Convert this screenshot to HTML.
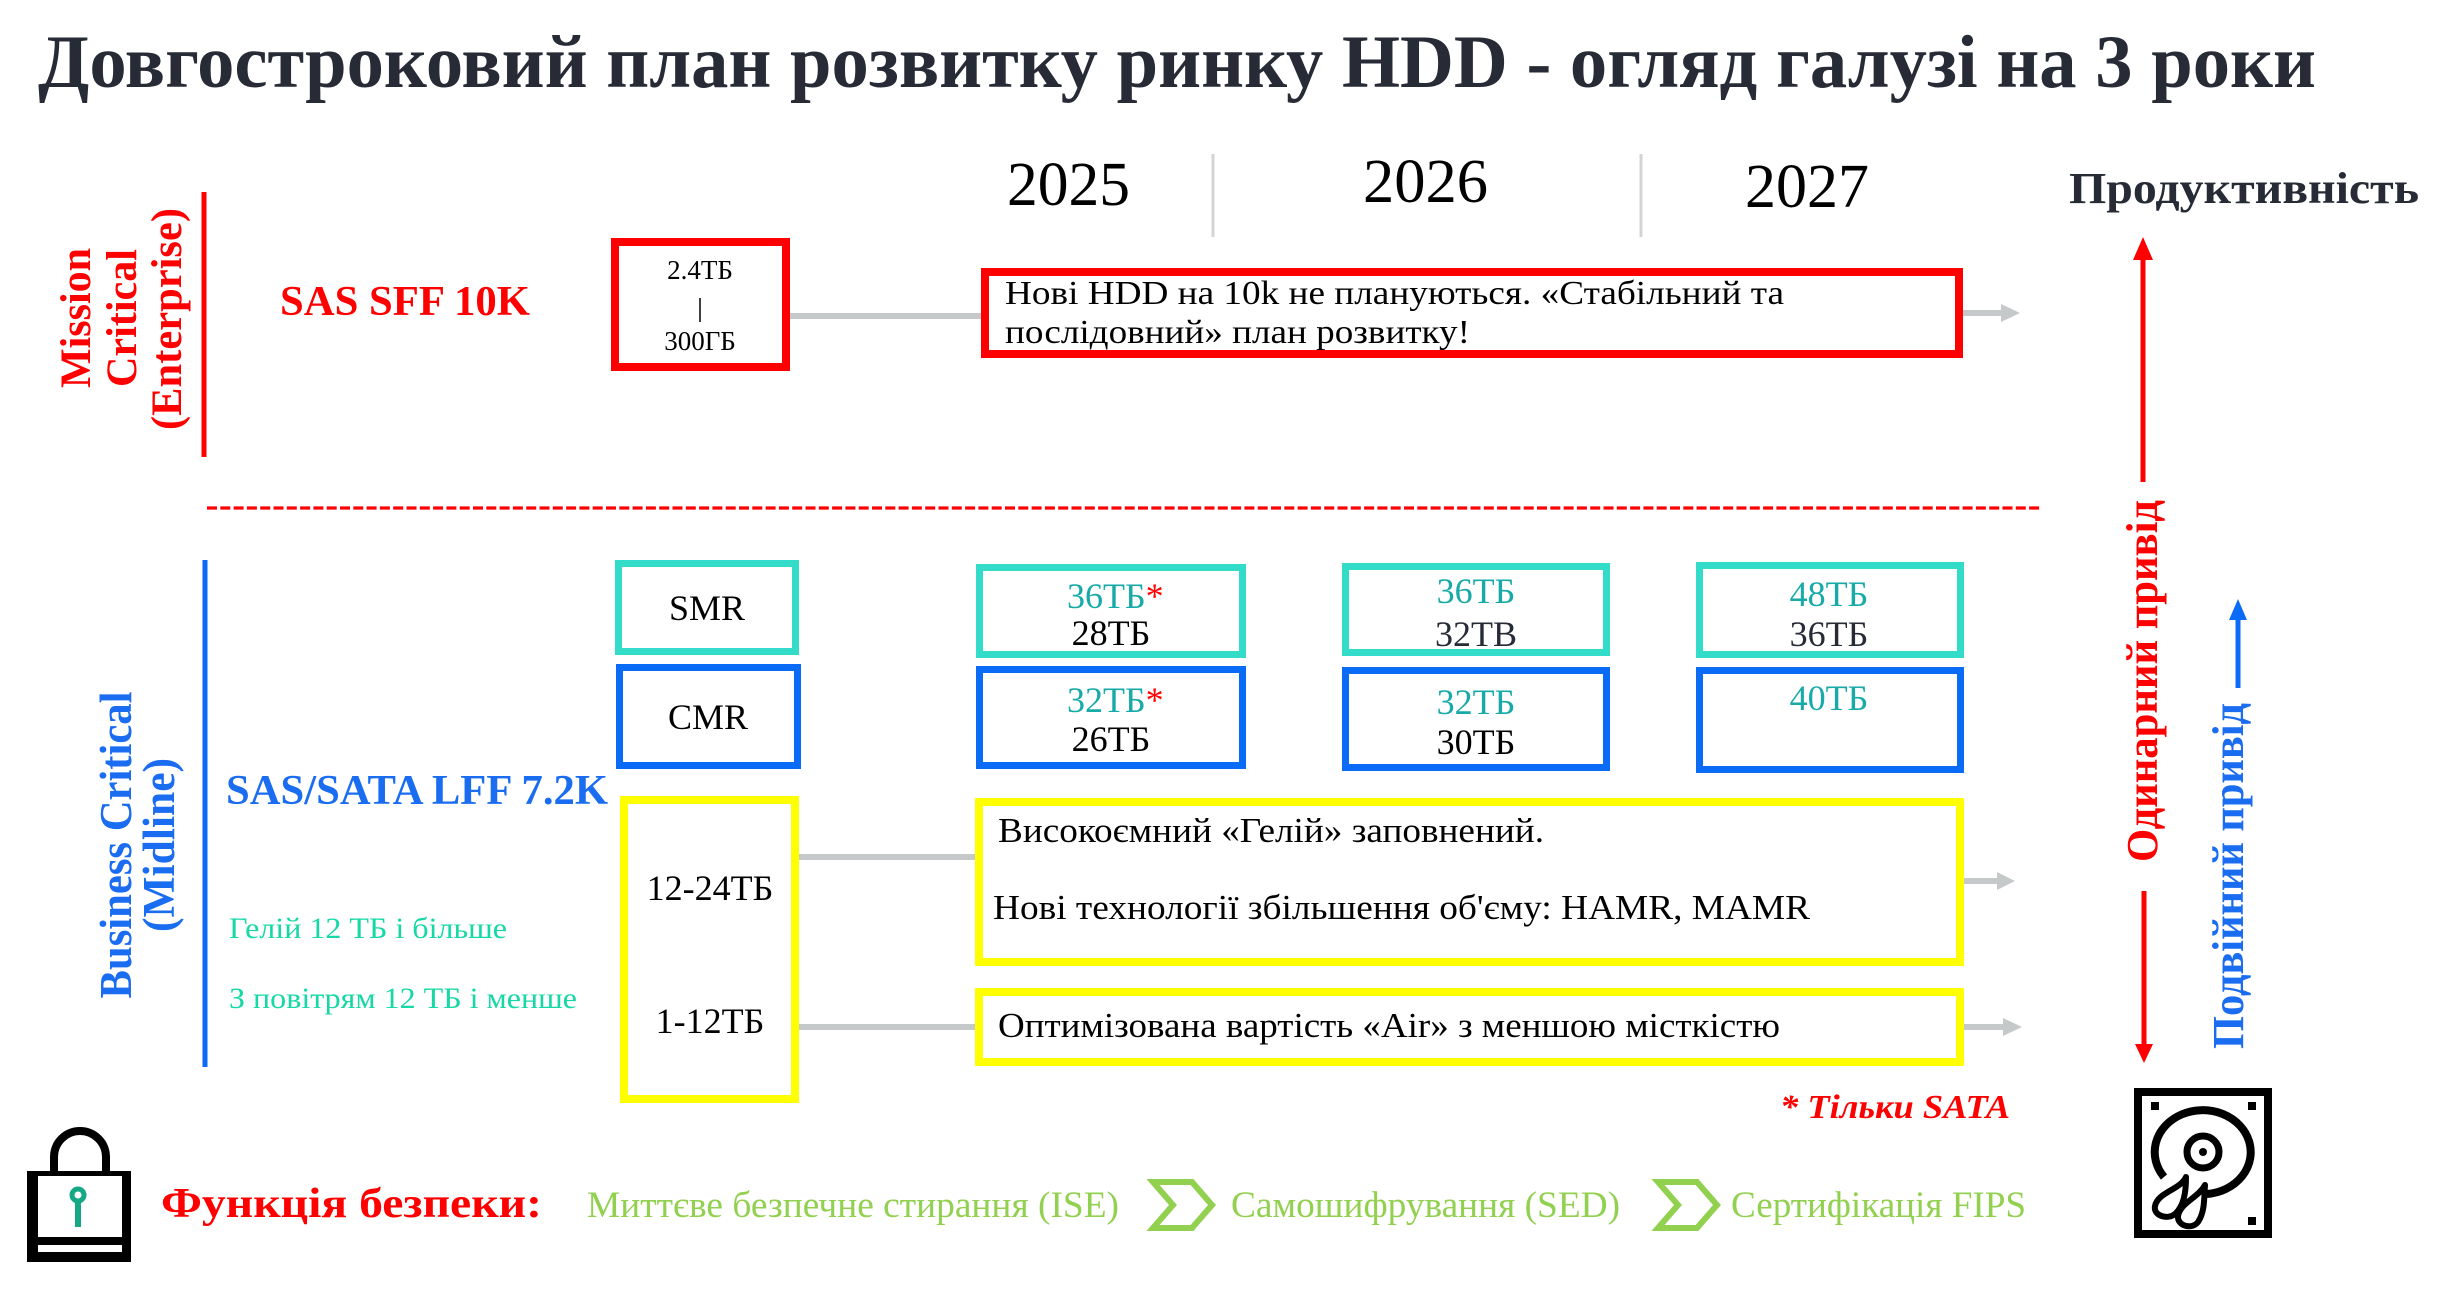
<!DOCTYPE html>
<html><head><meta charset="utf-8"><style>
html,body{margin:0;padding:0;background:#fff;}
svg{display:block;}
text{font-family:"Liberation Serif","Noto Serif CJK SC",serif;}
.b{font-weight:bold;}
</style></head><body>
<svg width="2462" height="1298" viewBox="0 0 2462 1298" xmlns="http://www.w3.org/2000/svg">
<rect width="2462" height="1298" fill="#fff"/>

<!-- Title -->
<text x="38" y="87" class="b" font-size="75" fill="#262b36" textLength="2278" lengthAdjust="spacingAndGlyphs">Довгостроковий план розвитку ринку HDD - огляд галузі на 3 роки</text>

<!-- Years -->
<text x="1007" y="205" font-size="62" fill="#000" textLength="123" lengthAdjust="spacingAndGlyphs">2025</text>
<text x="1363" y="202" font-size="62" fill="#000" textLength="125" lengthAdjust="spacingAndGlyphs">2026</text>
<text x="1745" y="207" font-size="62" fill="#000" textLength="124" lengthAdjust="spacingAndGlyphs">2027</text>
<line x1="1213" y1="154" x2="1213" y2="237" stroke="#d4d4d4" stroke-width="3"/>
<line x1="1641" y1="154" x2="1641" y2="237" stroke="#d4d4d4" stroke-width="3"/>
<text x="2069" y="203" class="b" font-size="44" fill="#262b36" textLength="350" lengthAdjust="spacingAndGlyphs">Продуктивність</text>

<!-- Mission Critical -->
<text transform="translate(90,318) rotate(-90)" text-anchor="middle" class="b" font-size="43" fill="#ff0000" textLength="140" lengthAdjust="spacingAndGlyphs">Mission</text>
<text transform="translate(136,318) rotate(-90)" text-anchor="middle" class="b" font-size="43" fill="#ff0000" textLength="138" lengthAdjust="spacingAndGlyphs">Critical</text>
<text transform="translate(181,319) rotate(-90)" text-anchor="middle" class="b" font-size="43" fill="#ff0000" textLength="222" lengthAdjust="spacingAndGlyphs">(Enterprise)</text>
<line x1="204" y1="192" x2="204" y2="457" stroke="#ff0000" stroke-width="5"/>
<text x="280" y="315" class="b" font-size="42" fill="#ff0000" textLength="250" lengthAdjust="spacingAndGlyphs">SAS SFF 10K</text>

<!-- 2.4TB box -->
<rect x="615" y="242" width="171" height="125" fill="none" stroke="#ff0000" stroke-width="8"/>
<text x="700" y="279" text-anchor="middle" font-size="27" fill="#000">2.4ТБ</text>
<line x1="700" y1="298" x2="700" y2="322" stroke="#000" stroke-width="1.5"/>
<text x="700" y="350" text-anchor="middle" font-size="27" fill="#000">300ГБ</text>
<line x1="790" y1="316" x2="981" y2="316" stroke="#c6c9c9" stroke-width="6"/>

<!-- Red text box -->
<rect x="985" y="272" width="974" height="82" fill="none" stroke="#ff0000" stroke-width="8"/>
<text x="1005" y="304" font-size="34" fill="#000" textLength="779" lengthAdjust="spacingAndGlyphs">Нові HDD на 10k не плануються. «Стабільний та</text>
<text x="1005" y="343" font-size="34" fill="#000" textLength="465" lengthAdjust="spacingAndGlyphs">послідовний» план розвитку!</text>
<line x1="1963" y1="313" x2="2003" y2="313" stroke="#c6c9c9" stroke-width="6"/>
<polygon points="2001,304 2020,313 2001,322" fill="#c6c9c9"/>

<!-- Dashed separator -->
<line x1="207" y1="508" x2="2040" y2="508" stroke="#ff0000" stroke-width="3.3" stroke-dasharray="10 3.3"/>

<!-- Business Critical -->
<text transform="translate(131,845) rotate(-90)" text-anchor="middle" class="b" font-size="45" fill="#1a6cf0" textLength="307" lengthAdjust="spacingAndGlyphs">Business Critical</text>
<text transform="translate(174,845) rotate(-90)" text-anchor="middle" class="b" font-size="45" fill="#1a6cf0" textLength="174" lengthAdjust="spacingAndGlyphs">(Midline)</text>
<line x1="205" y1="560" x2="205" y2="1067" stroke="#0a6bf6" stroke-width="5"/>
<text x="226" y="804" class="b" font-size="42" fill="#1a6cf0" textLength="382" lengthAdjust="spacingAndGlyphs">SAS/SATA LFF 7.2K</text>
<text x="229" y="938" font-size="30" fill="#16d8a6" textLength="278" lengthAdjust="spacingAndGlyphs">Гелій 12 ТБ і більше</text>
<text x="229" y="1008" font-size="30" fill="#16d8a6" textLength="348" lengthAdjust="spacingAndGlyphs">З повітрям 12 ТБ і менше</text>

<!-- SMR / CMR labels -->
<rect x="618.5" y="563.5" width="177" height="88" fill="none" stroke="#33dcc8" stroke-width="7"/>
<text x="707" y="620" text-anchor="middle" font-size="36" fill="#000">SMR</text>
<rect x="619.5" y="667.5" width="178" height="98" fill="none" stroke="#0a6bf6" stroke-width="7"/>
<text x="708" y="729" text-anchor="middle" font-size="36" fill="#000">CMR</text>

<!-- Yellow left box -->
<rect x="624" y="800" width="171" height="299" fill="none" stroke="#ffff00" stroke-width="8"/>
<text x="710" y="900" text-anchor="middle" font-size="36" fill="#000">12-24ТБ</text>
<text x="710" y="1033" text-anchor="middle" font-size="36" fill="#000">1-12ТБ</text>
<line x1="799" y1="857" x2="975" y2="857" stroke="#c6c9c9" stroke-width="6"/>
<line x1="799" y1="1027" x2="975" y2="1027" stroke="#c6c9c9" stroke-width="6"/>

<!-- 2025 -->
<rect x="979.5" y="567.5" width="263" height="87" fill="none" stroke="#33dcc8" stroke-width="7"/>
<text x="1067" y="608" font-size="36" fill="#17aaa8">36ТБ<tspan fill="#ff0000">*</tspan></text>
<text x="1111" y="645" text-anchor="middle" font-size="36" fill="#000">28ТБ</text>
<rect x="979.5" y="669.5" width="263" height="96" fill="none" stroke="#0a6bf6" stroke-width="7"/>
<text x="1067" y="712" font-size="36" fill="#17aaa8">32ТБ<tspan fill="#ff0000">*</tspan></text>
<text x="1111" y="751" text-anchor="middle" font-size="36" fill="#000">26ТБ</text>

<!-- 2026 -->
<rect x="1345.5" y="566.5" width="261" height="86" fill="none" stroke="#33dcc8" stroke-width="7"/>
<text x="1476" y="603" text-anchor="middle" font-size="36" fill="#17aaa8">36ТБ</text>
<text x="1476" y="646" text-anchor="middle" font-size="36" fill="#262b36">32ТВ</text>
<rect x="1345.5" y="670.5" width="261" height="97" fill="none" stroke="#0a6bf6" stroke-width="7"/>
<text x="1476" y="714" text-anchor="middle" font-size="36" fill="#17aaa8">32ТБ</text>
<text x="1476" y="754" text-anchor="middle" font-size="36" fill="#000">30ТБ</text>

<!-- 2027 -->
<rect x="1699.5" y="565.5" width="261" height="89" fill="none" stroke="#33dcc8" stroke-width="7"/>
<text x="1829" y="606" text-anchor="middle" font-size="36" fill="#17aaa8">48ТБ</text>
<text x="1829" y="646" text-anchor="middle" font-size="36" fill="#262b36">36ТБ</text>
<rect x="1699.5" y="670.5" width="261" height="99" fill="none" stroke="#0a6bf6" stroke-width="7"/>
<text x="1829" y="710" text-anchor="middle" font-size="36" fill="#17aaa8">40ТБ</text>

<!-- Big yellow box -->
<rect x="979" y="802" width="981" height="160" fill="none" stroke="#ffff00" stroke-width="8"/>
<text x="998" y="842" font-size="35" fill="#000" textLength="546" lengthAdjust="spacingAndGlyphs">Високоємний «Гелій» заповнений.</text>
<text x="993" y="919" font-size="35" fill="#000" textLength="817" lengthAdjust="spacingAndGlyphs">Нові технології збільшення об'єму: HAMR, MAMR</text>
<line x1="1964" y1="881" x2="1999" y2="881" stroke="#c6c9c9" stroke-width="6"/>
<polygon points="1997,872 2015,881 1997,890" fill="#c6c9c9"/>

<!-- Small yellow box -->
<rect x="979" y="992" width="981" height="70" fill="none" stroke="#ffff00" stroke-width="8"/>
<text x="998" y="1037" font-size="35" fill="#000" textLength="782" lengthAdjust="spacingAndGlyphs">Оптимізована вартість «Air» з меншою місткістю</text>
<line x1="1964" y1="1027" x2="2005" y2="1027" stroke="#c6c9c9" stroke-width="6"/>
<polygon points="2003,1018 2022,1027 2003,1036" fill="#c6c9c9"/>

<text x="1780" y="1118" class="b" font-style="italic" font-size="34" fill="#ff0000" textLength="230" lengthAdjust="spacingAndGlyphs">* Тільки SATA</text>

<!-- Right arrows -->
<line x1="2143" y1="255" x2="2143" y2="482" stroke="#ff0000" stroke-width="5"/>
<polygon points="2133,260 2143,237 2153,260" fill="#ff0000"/>
<text transform="translate(2157,681) rotate(-90)" text-anchor="middle" class="b" font-size="44" fill="#ff0000" textLength="362" lengthAdjust="spacingAndGlyphs">Одинарний привід</text>
<line x1="2144" y1="891" x2="2144" y2="1048" stroke="#ff0000" stroke-width="5"/>
<polygon points="2135,1044 2144,1063 2153,1044" fill="#ff0000"/>

<line x1="2238" y1="615" x2="2238" y2="688" stroke="#0a6bf6" stroke-width="5"/>
<polygon points="2229,620 2238,599 2247,620" fill="#0a6bf6"/>
<text transform="translate(2243,876) rotate(-90)" text-anchor="middle" class="b" font-size="44" fill="#1a6cf0" textLength="346" lengthAdjust="spacingAndGlyphs">Подвійний привід</text>

<!-- HDD icon -->
<rect x="2138" y="1092" width="130" height="142" fill="#fff" stroke="#000" stroke-width="8"/>
<rect x="2151" y="1102" width="8" height="8" fill="#000"/>
<rect x="2248" y="1102" width="8" height="8" fill="#000"/>
<rect x="2248" y="1217" width="8" height="8" fill="#000"/>
<path d="M 2207 1194 A 48 42 0 1 0 2164 1177" fill="none" stroke="#000" stroke-width="8"/>
<circle cx="2203" cy="1152" r="16" fill="none" stroke="#000" stroke-width="7"/>
<circle cx="2203" cy="1152" r="4" fill="#000"/>
<path d="M 2186 1177 C 2180 1190, 2158 1192, 2155 1206 C 2153 1216, 2168 1220, 2175 1214 C 2184 1206, 2186 1192, 2186 1177 Z" fill="none" stroke="#000" stroke-width="6" stroke-linejoin="round"/>
<path d="M 2205 1185 C 2198 1198, 2180 1203, 2178 1216 C 2177 1226, 2192 1230, 2198 1222 C 2205 1212, 2204 1198, 2205 1185 Z" fill="none" stroke="#000" stroke-width="6" stroke-linejoin="round"/>

<!-- Lock icon -->
<path d="M 54 1171 V 1157 A 26 26 0 0 1 106 1157 V 1171" fill="none" stroke="#000" stroke-width="8"/>
<rect x="27" y="1171" width="104" height="91" fill="#000"/>
<rect x="38" y="1176" width="84" height="61" fill="#fff"/>
<rect x="38" y="1245" width="84" height="7" fill="#fff"/>
<circle cx="78" cy="1195" r="6" fill="none" stroke="#14a884" stroke-width="5"/>
<line x1="78" y1="1200" x2="78" y2="1227" stroke="#14a884" stroke-width="6"/>

<!-- Security row -->
<text x="161" y="1217" class="b" font-size="42" fill="#ff0000" textLength="381" lengthAdjust="spacingAndGlyphs">Функція безпеки:</text>
<text x="587" y="1217" font-size="37" fill="#92d050" textLength="532" lengthAdjust="spacingAndGlyphs">Миттєве безпечне стирання (ISE)</text>
<polygon points="1153,1182 1192,1182 1212,1205 1192,1228 1153,1228 1173,1205" fill="none" stroke="#92d050" stroke-width="6" stroke-linejoin="miter"/>
<text x="1231" y="1217" font-size="37" fill="#92d050" textLength="389" lengthAdjust="spacingAndGlyphs">Самошифрування (SED)</text>
<polygon points="1658,1182 1697,1182 1717,1205 1697,1228 1658,1228 1678,1205" fill="none" stroke="#92d050" stroke-width="6" stroke-linejoin="miter"/>
<text x="1731" y="1217" font-size="37" fill="#92d050" textLength="295" lengthAdjust="spacingAndGlyphs">Сертифікація FIPS</text>
</svg>
</body></html>
